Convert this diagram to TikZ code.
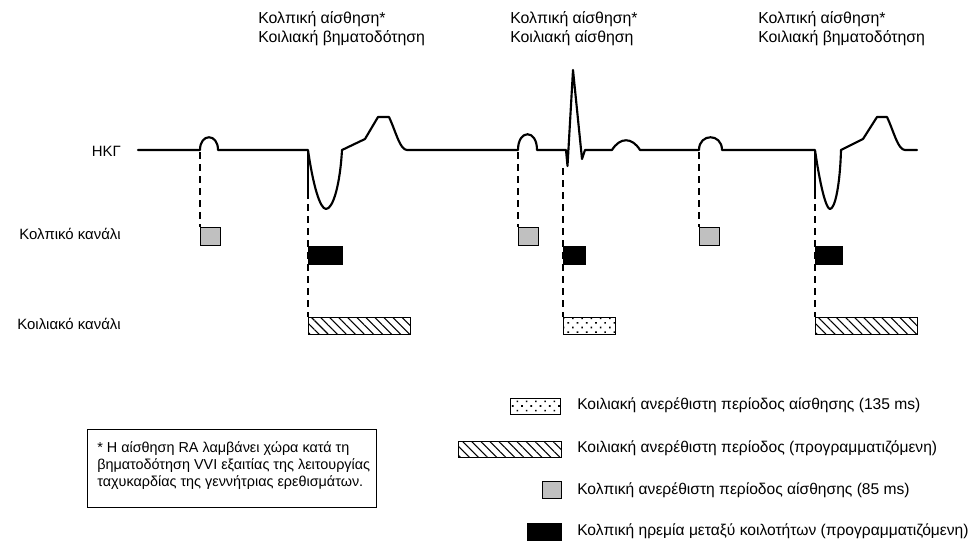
\documentclass[tikz,border=0pt]{standalone}
\usepackage{fontspec}
\setmainfont{Liberation Sans}
\usetikzlibrary{patterns.meta}
\definecolor{boxgray}{HTML}{C0C0C0}
\begin{document}
\begin{tikzpicture}[x=0.75pt,y=-0.75pt,
  lbl/.style={font=\fontsize{10.8}{13}\selectfont, inner sep=0pt},
  hdr/.style={font=\fontsize{11.9}{14}\selectfont, inner sep=0pt},
  row/.style={font=\fontsize{11.2}{13}\selectfont, inner sep=0pt},
  leg/.style={font=\fontsize{11.7}{14}\selectfont, inner sep=0pt},
  ecg/.style={line width=1.6pt, line join=round, line cap=round},
  guide/.style={line width=1.1pt, dash pattern=on 5.5pt off 3.5pt},
  spike/.style={line width=1.2pt},
  boxsize/.style 2 args={minimum width=#1*0.75pt, minimum height=#2*0.75pt},
  pbox/.style={draw, line width=0.9pt, inner sep=0pt, anchor=north west},
  grayb/.style={pbox, fill=boxgray, boxsize={20}{18}},
  blackb/.style={pbox, fill=black},
  hatchb/.style={pbox, pattern={Lines[angle=-45, distance=4.8pt, line width=0.8pt]}},
  dotb/.style={pbox, pattern={Dots[angle=45, distance=4.9pt, radius=0.85pt]}},
  note/.style={draw, line width=0.7pt, inner sep=0pt, anchor=north west}
]
\useasboundingbox (0,0) rectangle (977,540);

% headers
\node[hdr, anchor=base west] (h1a) at (258,23) {Κολπική αίσθηση*};
\node[hdr, anchor=base west] (h1b) at (258,42) {Κοιλιακή βηματοδότηση};
\node[hdr, anchor=base west] (h2a) at (510,23) {Κολπική αίσθηση*};
\node[hdr, anchor=base west] (h2b) at (510,42) {Κοιλιακή αίσθηση};
\node[hdr, anchor=base west] (h3a) at (758,23) {Κολπική αίσθηση*};
\node[hdr, anchor=base west] (h3b) at (758,42) {Κοιλιακή βηματοδότηση};

% row labels
\node[row, anchor=base east] (lecg) at (121,156) {ΗΚΓ};
\node[row, anchor=base east] (latr) at (121,239.5) {Κολπικό κανάλι};
\node[row, anchor=base east] (lven) at (121,329.5) {Κοιλιακό κανάλι};

% ECG
\draw[ecg] (138,150) -- (200,150) .. controls (200,133) and (218,133) .. (218,150) -- (308,150)
  .. controls (313,185) and (320,209) .. (326,209) .. controls (333,209) and (340,185) .. (342,150)
  -- (365,139) -- (378,117) -- (389,117) .. controls (396,132) and (400,150) .. (407,150)
  -- (518,150) .. controls (518,129) and (537,129) .. (537,150)
  -- (566,150) -- (567.5,166) -- (573,70) -- (582,159) -- (585,150) -- (612,150)
  .. controls (620,137) and (632,137) .. (640,150)
  -- (699,150) .. controls (699,133) and (722,133) .. (722,150)
  -- (815,150) .. controls (820,185) and (826,209) .. (830,209) .. controls (835,209) and (840,185) .. (841,150)
  -- (863,139) -- (877,117) -- (887,117) .. controls (894,132) and (898,150) .. (905,150) -- (917,150);

% coordinates on the ECG
\coordinate (p1) at (200,152);
\coordinate (p2) at (518,152);
\coordinate (p3) at (699,152);
\coordinate (v1top) at (308,150);
\coordinate (v1) at (308,192);
\coordinate (v2) at (563,168);
\coordinate (v3top) at (815,150);
\coordinate (v3) at (815,192);

% atrial channel boxes
\node[grayb] (a1) at (200,227) {};
\node[grayb] (a2) at (518,227) {};
\node[grayb] (a3) at (699,227) {};

% ventricular channel boxes
\node[hatchb, boxsize={102}{17}] (r1) at (308,317) {};
\node[dotb, boxsize={52}{17}] (r2) at (563,317) {};
\node[hatchb, boxsize={102}{17}] (r3) at (815,317) {};

% guide lines
\draw[guide] (p1) -- (a1.north west);
\draw[guide] (p2) -- (a2.north west);
\draw[guide] (p3) -- (a3.north west);
\draw[spike] (v1top) -- (v1);
\draw[spike] (v3top) -- (v3);
\draw[guide] (v1) -- (r1.north west);
\draw[guide] (v2) -- (r2.north west);
\draw[guide] (v3) -- (r3.north west);

% blanking boxes (black)
\node[blackb, boxsize={34}{18}] (b1) at (308,246) {};
\node[blackb, boxsize={22}{18}] (b2) at (563,246) {};
\node[blackb, boxsize={27}{18}] (b3) at (815,246) {};

% note box
\node[note, boxsize={289}{78}] (nb) at (87,429) {};
\node[lbl, anchor=base west] (n1) at (97,452) {* Η αίσθηση RA λαμβάνει χώρα κατά τη};
\node[lbl, anchor=base west] (n2) at (97,469) {βηματοδότηση VVI εξαιτίας της λειτουργίας};
\node[lbl, anchor=base west] (n3) at (97,486) {ταχυκαρδίας της γεννήτριας ερεθισμάτων.};

% legend
\node[dotb, boxsize={50}{16}] (k1) at (510,398) {};
\node[hatchb, boxsize={103}{16}] (k2) at (458,441) {};
\node[grayb, boxsize={19}{17}] (k3) at (542,481) {};
\node[blackb, boxsize={34}{18}] (k4) at (527,523) {};
\node[leg, anchor=base west] (t1) at (577,409) {Κοιλιακή ανερέθιστη περίοδος αίσθησης (135 ms)};
\node[leg, anchor=base west] (t2) at (577,452) {Κοιλιακή ανερέθιστη περίοδος (προγραμματιζόμενη)};
\node[leg, anchor=base west] (t3) at (577,494) {Κολπική ανερέθιστη περίοδος αίσθησης (85 ms)};
\node[leg, anchor=base west] (t4) at (577,535) {Κολπική ηρεμία μεταξύ κοιλοτήτων (προγραμματιζόμενη)};
\end{tikzpicture}
\end{document}
